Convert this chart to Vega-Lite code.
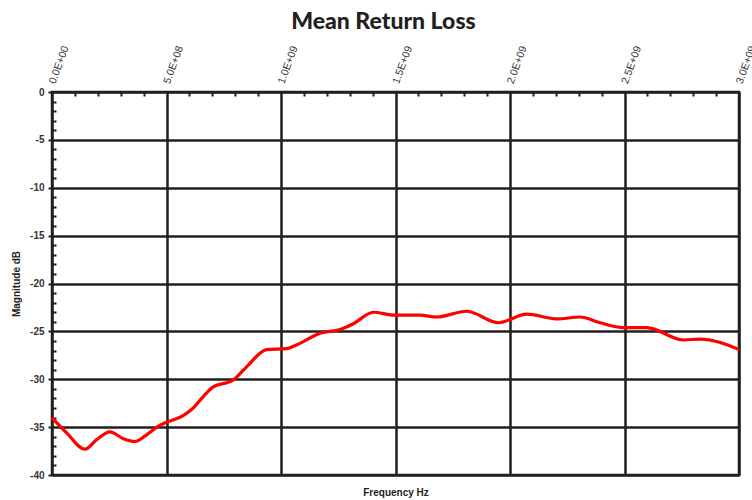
{
  "$schema": "https://vega.github.io/schema/vega-lite/v6.json",
  "width": 687,
  "height": 383,
  "autosize": {"type": "none"},
  "padding": {"left": 52, "top": 92, "right": 13, "bottom": 25},
  "background": "white",
  "title": {
    "text": "Mean Return Loss",
    "font": "Lato",
    "fontSize": 23,
    "fontWeight": 900,
    "color": "#231f20",
    "anchor": "middle",
    "dx": -12,
    "offset": 10
  },
  "config": {
    "view": {"stroke": "#231f20", "strokeWidth": 2.5},
    "axis": {"labelFont": "Liberation Sans", "titleFont": "Liberation Sans", "labelColor": "#333333", "titleColor": "#231f20"}
  },
  "data": {
    "values": [
      {"freq": 0, "mag": -34.0},
      {"freq": 64000000, "mag": -35.6},
      {"freq": 144000000, "mag": -37.3},
      {"freq": 195000000, "mag": -36.3},
      {"freq": 253000000, "mag": -35.5},
      {"freq": 311000000, "mag": -36.2},
      {"freq": 362000000, "mag": -36.5},
      {"freq": 413000000, "mag": -35.8},
      {"freq": 472000000, "mag": -34.8},
      {"freq": 500000000, "mag": -34.5},
      {"freq": 573000000, "mag": -33.8},
      {"freq": 617000000, "mag": -33.0},
      {"freq": 646000000, "mag": -32.2},
      {"freq": 704000000, "mag": -30.8},
      {"freq": 790000000, "mag": -30.1},
      {"freq": 850000000, "mag": -28.7},
      {"freq": 937000000, "mag": -26.9},
      {"freq": 1025000000, "mag": -26.8},
      {"freq": 1070000000, "mag": -26.4},
      {"freq": 1170000000, "mag": -25.2},
      {"freq": 1258000000, "mag": -24.8},
      {"freq": 1316000000, "mag": -24.2},
      {"freq": 1403000000, "mag": -23.0},
      {"freq": 1490000000, "mag": -23.3},
      {"freq": 1607000000, "mag": -23.3},
      {"freq": 1680000000, "mag": -23.5},
      {"freq": 1810000000, "mag": -22.9},
      {"freq": 1950000000, "mag": -24.1},
      {"freq": 2073000000, "mag": -23.2},
      {"freq": 2204000000, "mag": -23.7},
      {"freq": 2306000000, "mag": -23.5},
      {"freq": 2393000000, "mag": -24.1},
      {"freq": 2495000000, "mag": -24.6},
      {"freq": 2597000000, "mag": -24.6},
      {"freq": 2757000000, "mag": -25.9},
      {"freq": 2830000000, "mag": -25.8},
      {"freq": 3000000000, "mag": -26.9}
    ]
  },
  "resolve": {"axis": {"x": "independent", "y": "independent"}},
  "layer": [
    {
      "mark": {"type": "line", "opacity": 0},
      "encoding": {
        "x": {
          "field": "freq", "type": "quantitative",
          "scale": {"domain": [0, 3000000000], "nice": false, "zero": false},
          "axis": {
            "orient": "top", "title": null,
            "values": [0, 500000000, 1000000000, 1500000000, 2000000000, 2500000000, 3000000000],
            "labelExpr": "replace(format(datum.value, '.1e'), 'e+', 'E+0')",
            "labelAngle": -70, "labelAlign": "left", "labelBaseline": "middle",
            "labelFontSize": 10.5, "labelPadding": 9,
            "ticks": false, "domain": false,
            "grid": true, "gridColor": "#231f20", "gridWidth": 2.5, "gridOpacity": 1
          }
        },
        "y": {
          "field": "mag", "type": "quantitative",
          "scale": {"domain": [-40, 0], "nice": false, "zero": false},
          "axis": {
            "orient": "left", "title": "Magnitude dB",
            "titleFontSize": 10, "titleFontWeight": "bold", "titlePadding": 8,
            "values": [-40, -35, -30, -25, -20, -15, -10, -5, 0],
            "labelExpr": "datum.value + ''",
            "labelFontSize": 10, "labelFontWeight": "bold", "labelPadding": 4,
            "ticks": true, "tickSize": 4, "tickColor": "#231f20", "tickWidth": 2,
            "domain": false,
            "grid": true, "gridColor": "#231f20", "gridWidth": 2.5, "gridOpacity": 1
          }
        }
      }
    },
    {
      "mark": {"type": "line", "opacity": 0},
      "encoding": {
        "x": {
          "field": "freq", "type": "quantitative",
          "axis": {
            "orient": "top", "title": null, "labels": false, "domain": false, "grid": false,
            "values": [100000000, 200000000, 300000000, 400000000, 600000000, 700000000, 800000000, 900000000, 1100000000, 1200000000, 1300000000, 1400000000, 1600000000, 1700000000, 1800000000, 1900000000, 2100000000, 2200000000, 2300000000, 2400000000, 2600000000, 2700000000, 2800000000, 2900000000],
            "ticks": true, "tickSize": -4, "tickColor": "#231f20", "tickWidth": 2
          }
        },
        "y": {
          "field": "mag", "type": "quantitative",
          "axis": {
            "orient": "left", "title": null, "labels": false, "domain": false, "grid": false,
            "values": [-39, -38, -37, -36, -34, -33, -32, -31, -29, -28, -27, -26, -24, -23, -22, -21, -19, -18, -17, -16, -14, -13, -12, -11, -9, -8, -7, -6, -4, -3, -2, -1],
            "ticks": true, "tickSize": -4, "tickColor": "#231f20", "tickWidth": 2
          }
        }
      }
    },
    {
      "mark": {"type": "line", "color": "#ff0000", "strokeWidth": 3.2, "interpolate": "monotone"},
      "encoding": {
        "x": {
          "field": "freq", "type": "quantitative",
          "axis": {
            "orient": "bottom", "title": "Frequency Hz", "titleFontSize": 10, "titleFontWeight": "bold",
            "titlePadding": 12,
            "labels": false, "ticks": false, "domain": false, "grid": false
          }
        },
        "y": {"field": "mag", "type": "quantitative", "axis": null}
      }
    }
  ]
}
